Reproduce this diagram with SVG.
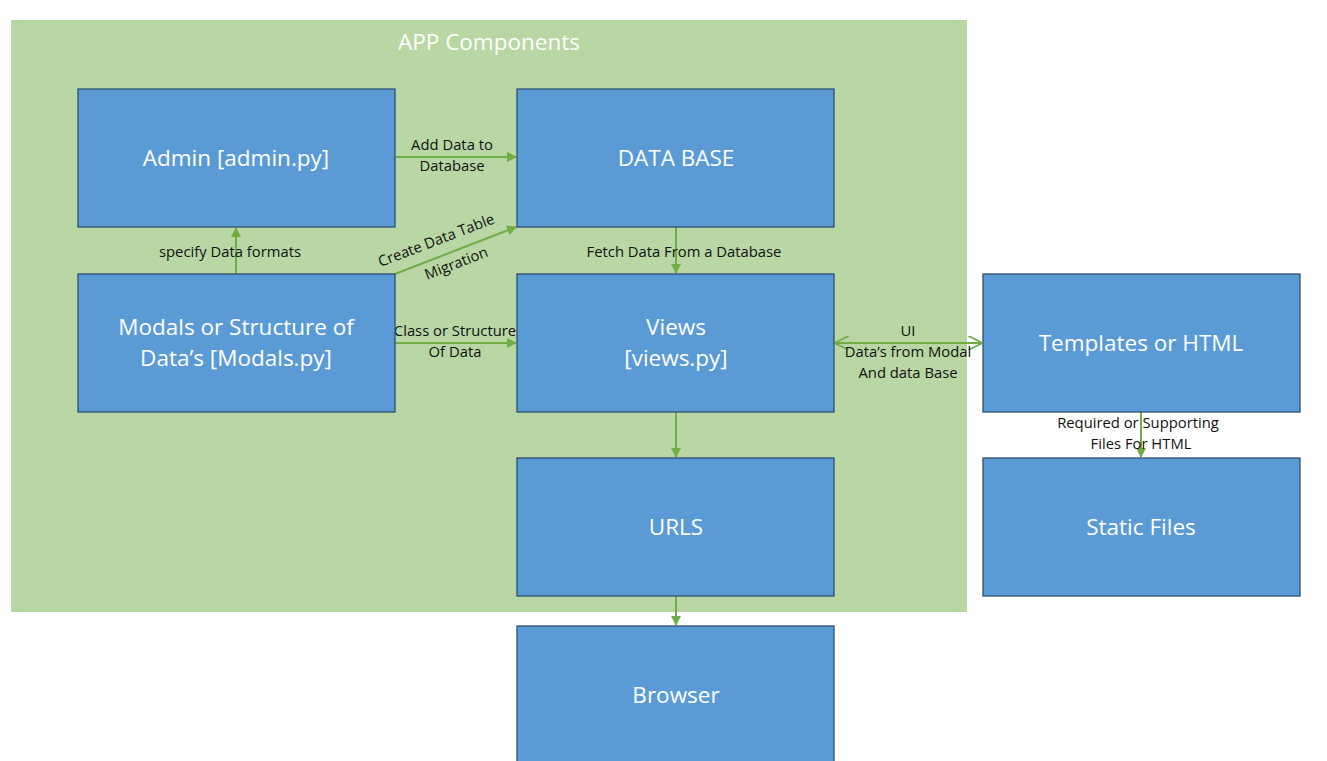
<svg xmlns="http://www.w3.org/2000/svg" width="1327" height="761" viewBox="0 0 1327 761">
<defs>
<style>
.box{fill:#5B9BD5;stroke:#2F4F70;stroke-width:1.3}
.nt{font-family:"Open Sans","Liberation Sans",Arial,sans-serif;font-size:22.5px;fill:#fff;text-anchor:middle}
.lb{font-family:"Open Sans","Liberation Sans",Arial,sans-serif;font-size:14.8px;fill:#111;text-anchor:middle}
.ln{stroke:#70AD47;stroke-width:2;fill:none}
</style>
<marker id="ah" viewBox="0 0 10 10" refX="9" refY="5" markerWidth="5" markerHeight="5" orient="auto-start-reverse" markerUnits="strokeWidth">
<path d="M0,0 L10,5 L0,10 z" fill="#70AD47"/>
</marker>
<marker id="oa" viewBox="0 0 10 10" refX="9" refY="5" markerWidth="7" markerHeight="7" orient="auto-start-reverse" markerUnits="strokeWidth">
<path d="M0,0 L10,5 L0,10" fill="none" stroke="#70AD47" stroke-width="1.3"/>
</marker>
</defs>
<rect width="1327" height="761" fill="#fff"/>
<g id="app">
<rect x="11" y="20" width="956" height="592" fill="#B8D7A4"/>
<text x="489" y="50" class="nt">APP Components</text>
</g>
<g id="connectors">
<line class="ln" x1="395" y1="157" x2="516" y2="157" marker-end="url(#ah)"/>
<line class="ln" x1="236" y1="274" x2="236" y2="228" marker-end="url(#ah)"/>
<line class="ln" x1="395" y1="274" x2="516" y2="227" marker-end="url(#ah)"/>
<line class="ln" x1="395" y1="343" x2="516" y2="343" marker-end="url(#ah)"/>
<line class="ln" x1="676" y1="227" x2="676" y2="273" marker-end="url(#ah)"/>
<line class="ln" x1="836" y1="343" x2="981" y2="343" stroke-width="1" marker-start="url(#oa)" marker-end="url(#oa)"/>
<line class="ln" x1="676" y1="412" x2="676" y2="457" marker-end="url(#ah)"/>
<line class="ln" x1="676" y1="596" x2="676" y2="625" marker-end="url(#ah)"/>
<line class="ln" x1="1141" y1="412" x2="1141" y2="457" marker-end="url(#ah)"/>
<text class="lb" x="452" y="150">Add Data to</text>
<text class="lb" x="452" y="171">Database</text>
<text class="lb" x="230" y="257">specify Data formats</text>
<text class="lb" transform="translate(438,245) rotate(-21)">Create Data Table</text>
<text class="lb" transform="translate(458,268) rotate(-21)">Migration</text>
<text class="lb" x="455" y="336">Class or Structure</text>
<text class="lb" x="455" y="357">Of Data</text>
<text class="lb" x="684" y="257">Fetch Data From a Database</text>
<text class="lb" x="908" y="336">UI</text>
<text class="lb" x="908" y="357">Data’s from Modal</text>
<text class="lb" x="908" y="378">And data Base</text>
<text class="lb" x="1138" y="428">Required or Supporting</text>
<text class="lb" x="1141" y="449">Files For HTML</text>
</g>
<g id="admin"><rect class="box" x="78" y="89" width="317" height="138"/><text class="nt" x="236" y="166">Admin [admin.py]</text></g>
<g id="database"><rect class="box" x="517" y="89" width="317" height="138"/><text class="nt" x="676" y="166">DATA BASE</text></g>
<g id="modals"><rect class="box" x="78" y="274" width="317" height="138"/><text class="nt" x="236" y="335">Modals or Structure of</text><text class="nt" x="236" y="366">Data’s [Modals.py]</text></g>
<g id="views"><rect class="box" x="517" y="274" width="317" height="138"/><text class="nt" x="676" y="335">Views</text><text class="nt" x="676" y="366">[views.py]</text></g>
<g id="templates"><rect class="box" x="983" y="274" width="317" height="138"/><text class="nt" x="1141" y="351">Templates or HTML</text></g>
<g id="urls"><rect class="box" x="517" y="458" width="317" height="138"/><text class="nt" x="676" y="535">URLS</text></g>
<g id="static"><rect class="box" x="983" y="458" width="317" height="138"/><text class="nt" x="1141" y="535">Static Files</text></g>
<g id="browser"><rect class="box" x="517" y="626" width="317" height="140"/><text class="nt" x="676" y="703">Browser</text></g>
</svg>
